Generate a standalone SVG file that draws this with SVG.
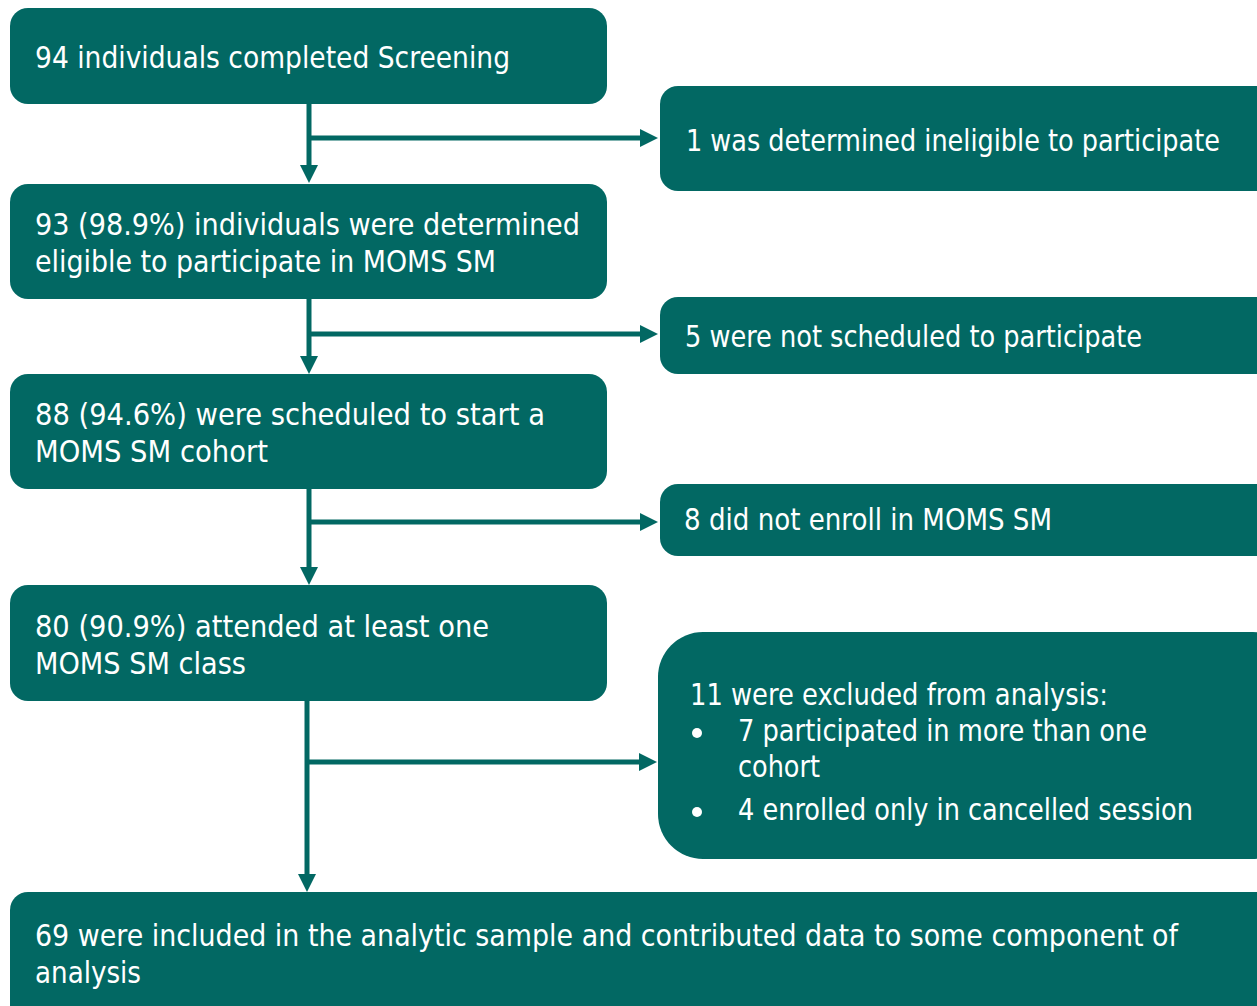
<svg xmlns="http://www.w3.org/2000/svg" width="1257" height="1006" viewBox="0 0 1257 1006">
<defs>
<style>
.box{fill:#026863}
.t{font-family:"DejaVu Sans Condensed","Liberation Sans",sans-serif;font-size:30px;fill:#ffffff}
.c{stroke:#026863;stroke-width:5;fill:none}
.h{fill:#026863}
</style>
<marker id="ah" viewBox="0 0 18 18" refX="10" refY="9" markerWidth="18" markerHeight="18" markerUnits="userSpaceOnUse" orient="auto"><path d="M0,0 L18,9 L0,18 Z" class="h"/></marker>
</defs>
<rect width="1257" height="1006" fill="#ffffff"/>
<g id="connectors">
<path class="c" d="M309,104 V175" marker-end="url(#ah)"/>
<path class="c" d="M309,138 H650" marker-end="url(#ah)"/>
<path class="c" d="M309,299 V366" marker-end="url(#ah)"/>
<path class="c" d="M309,334 H650" marker-end="url(#ah)"/>
<path class="c" d="M309,489 V577" marker-end="url(#ah)"/>
<path class="c" d="M309,522 H650" marker-end="url(#ah)"/>
<path class="c" d="M307,701 V884" marker-end="url(#ah)"/>
<path class="c" d="M307,762 H649" marker-end="url(#ah)"/>
</g>
<g id="n1"><rect class="box" x="10" y="8" width="597" height="96" rx="18"/>
<text class="t" x="35" y="68" textLength="475" lengthAdjust="spacingAndGlyphs">94 individuals completed Screening</text></g>
<g id="r1"><rect class="box" x="660" y="86" width="620" height="105" rx="18"/>
<text class="t" x="686" y="151" textLength="534" lengthAdjust="spacingAndGlyphs">1 was determined ineligible to participate</text></g>
<g id="n2"><rect class="box" x="10" y="184" width="597" height="115" rx="18"/>
<text class="t" x="35" y="235" textLength="545" lengthAdjust="spacingAndGlyphs">93 (98.9%) individuals were determined</text>
<text class="t" x="35" y="272" textLength="461" lengthAdjust="spacingAndGlyphs">eligible to participate in MOMS SM</text></g>
<g id="r2"><rect class="box" x="660" y="297" width="620" height="77" rx="18"/>
<text class="t" x="685" y="347" textLength="457" lengthAdjust="spacingAndGlyphs">5 were not scheduled to participate</text></g>
<g id="n3"><rect class="box" x="10" y="374" width="597" height="115" rx="18"/>
<text class="t" x="35" y="425" textLength="510" lengthAdjust="spacingAndGlyphs">88 (94.6%) were scheduled to start a</text>
<text class="t" x="35" y="462" textLength="233" lengthAdjust="spacingAndGlyphs">MOMS SM cohort</text></g>
<g id="r3"><rect class="box" x="660" y="484" width="620" height="72" rx="18"/>
<text class="t" x="684" y="530" textLength="368" lengthAdjust="spacingAndGlyphs">8 did not enroll in MOMS SM</text></g>
<g id="n4"><rect class="box" x="10" y="585" width="597" height="116" rx="18"/>
<text class="t" x="35" y="637" textLength="454" lengthAdjust="spacingAndGlyphs">80 (90.9%) attended at least one</text>
<text class="t" x="35" y="674" textLength="211" lengthAdjust="spacingAndGlyphs">MOMS SM class</text></g>
<g id="r4"><rect class="box" x="658" y="632" width="640" height="227" rx="45"/>
<text class="t" x="690" y="705" textLength="418" lengthAdjust="spacingAndGlyphs">11 were excluded from analysis:</text>
<circle cx="697" cy="733" r="5" fill="#ffffff"/>
<text class="t" x="738" y="741" textLength="409" lengthAdjust="spacingAndGlyphs">7 participated in more than one</text>
<text class="t" x="738" y="777" textLength="82" lengthAdjust="spacingAndGlyphs">cohort</text>
<circle cx="697" cy="812" r="5" fill="#ffffff"/>
<text class="t" x="738" y="820" textLength="455" lengthAdjust="spacingAndGlyphs">4 enrolled only in cancelled session</text></g>
<g id="n5"><rect class="box" x="10" y="892" width="1290" height="140" rx="18"/>
<text class="t" x="35" y="946" textLength="1143" lengthAdjust="spacingAndGlyphs">69 were included in the analytic sample and contributed data to some component of</text>
<text class="t" x="35" y="983" textLength="106" lengthAdjust="spacingAndGlyphs">analysis</text></g>
</svg>
